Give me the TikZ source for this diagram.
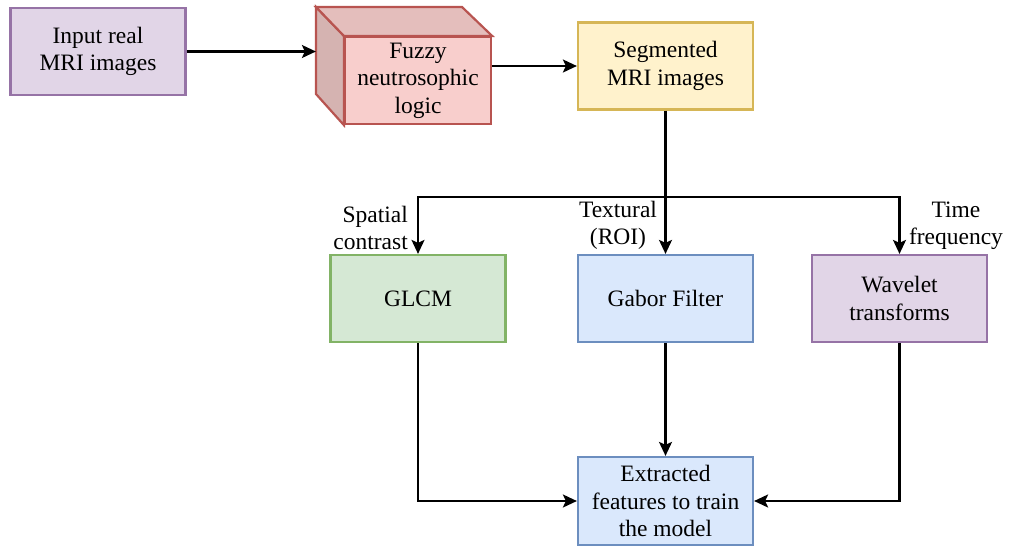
\documentclass[tikz,border=0pt]{standalone}
\usepackage{fontspec}
\setmainfont{Liberation Serif}
\usetikzlibrary{calc,positioning,arrows.meta}
\definecolor{purplefill}{HTML}{E1D5E7}
\definecolor{purpledraw}{HTML}{9673A6}
\definecolor{redfill}{HTML}{F8CECC}
\definecolor{reddraw}{HTML}{B85450}
\definecolor{yellowfill}{HTML}{FFF2CC}
\definecolor{yellowdraw}{HTML}{D6B656}
\definecolor{greenfill}{HTML}{D5E8D4}
\definecolor{greendraw}{HTML}{82B366}
\definecolor{bluefill}{HTML}{DAE8FC}
\definecolor{bluedraw}{HTML}{6C8EBF}
\tikzset{
    box/.style={
        rectangle,
        line width=2.2pt,
        align=center,
        minimum width=175pt,
        minimum height=87pt,
        inner sep=2pt,
        font=\fontsize{23.5}{27.5}\selectfont,
    },
    purplebox/.style={box,draw=purpledraw,fill=purplefill},
    redbox/.style={box,draw=reddraw,fill=redfill,minimum width=146pt},
    yellowbox/.style={box,draw=yellowdraw,fill=yellowfill},
    greenbox/.style={box,draw=greendraw,fill=greenfill},
    bluebox/.style={box,draw=bluedraw,fill=bluefill},
    connector/.style={
        -{Stealth[length=14pt,width=13pt,inset=3pt]},
        line width=2.2pt,
    },
    label text/.style={
        align=center,
        font=\fontsize{23.5}{27.5}\selectfont,
    },
}

\begin{document}
\begin{tikzpicture}[x=1pt,y=-1pt]
    \useasboundingbox (0,0) rectangle (1013,547);
    \node[purplebox](inputbox) at (98,51.5) {Input real\\MRI images};
    \node[redbox](fuzzy) at (418,80.5) {Fuzzy\\neutrosophic\\logic};
    % cube back faces
    \draw[line width=2.2pt,draw=reddraw,fill=redfill!85!black!95] (fuzzy.north west) -- ++(-28,-29) -- ++(0,87) -- (fuzzy.south west) -- cycle;
    \draw[line width=2.2pt,draw=reddraw,fill=redfill!92!black] (fuzzy.north west) -- ++(-28,-29) -- ++(146,0) -- (fuzzy.north east) -- cycle;
    \coordinate (cubeleft) at ($(fuzzy.west)+(-28,-29)$);
    \node[yellowbox](segmented) at (665.5,66) {Segmented\\MRI images};
    \node[greenbox](glcm) at (418,298.5) {GLCM};
    \node[bluebox](gabor) at (665.5,298.5) {Gabor Filter};
    \node[purplebox](wavelet) at (899.5,298.5) {Wavelet\\transforms};
    \node[bluebox,minimum height=88pt](extracted) at (665.5,501) {Extracted\\features to train\\the model};
    \coordinate (split) at (665.5,197);
    \node[label text,align=right,anchor=south east,inner sep=0pt](l1) at (408,250) {Spatial\\contrast};
    \node[label text,anchor=south,inner sep=0pt](l2) at (618,250) {Textural\\(ROI)};
    \node[label text,anchor=south,inner sep=0pt](l3) at (956,250) {Time\\frequency};
    \draw[connector] (inputbox.east) -- (cubeleft);
    \draw[connector] (segmented.west -| fuzzy.east) -- (segmented.west);
    \draw[connector] (segmented.south) -- (gabor.north);
    \draw[connector] (split) -| (glcm.north);
    \draw[connector] (split) -| (wavelet.north);
    \draw[connector] (glcm.south) |- (extracted.west);
    \draw[connector] (gabor.south) -- (extracted.north);
    \draw[connector] (wavelet.south) |- (extracted.east);
\end{tikzpicture}
\end{document}
